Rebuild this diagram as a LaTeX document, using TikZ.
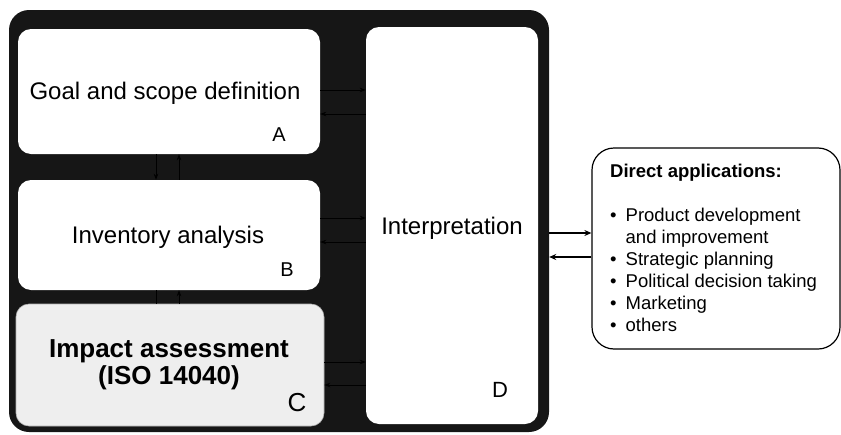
\documentclass[tikz,border=0pt]{standalone}
\usepackage{fontspec}
\setmainfont{Liberation Sans}
\usetikzlibrary{arrows.meta}
\definecolor{framefill}{HTML}{161616}
\definecolor{pale}{HTML}{EEEEEE}
\tikzset{
  stage/.style={rounded corners=13pt, inner sep=0pt, fill=white},
  link/.style={draw=black, line width=0.8pt, -{Stealth[length=6pt,width=4.5pt]}},
  plainlink/.style={draw=black, line width=0.8pt},
  outlink/.style={draw=black, line width=1.8pt, -{Stealth[length=7pt,width=6pt]}},
  title/.style={inner sep=0pt, font=\fontsize{24}{28}\selectfont},
  tag/.style={inner sep=0pt}
}
\begin{document}
\begin{tikzpicture}[x=1pt,y=-1pt]
\useasboundingbox (0,0) rectangle (841,434);

% dark frame holding the four phases
\node[fill=framefill, rounded corners=20pt, inner sep=0pt,
      minimum width=540pt, minimum height=422pt] (F) at (279,221) {};

% phase boxes
\node[stage, minimum width=302pt, minimum height=125pt] (A) at (169,91.5) {};
\node[stage, minimum width=302pt, minimum height=110pt] (B) at (169,235) {};
\node[stage, fill=pale, draw=gray!60, line width=0.6pt,
      minimum width=308pt, minimum height=122pt] (C) at (170,365) {};
\node[stage, minimum width=172pt, minimum height=397pt] (D) at (452,225.5) {};

% applications box
\node[draw=black, line width=1.2pt, rounded corners=22pt, fill=white, inner sep=0pt,
      minimum width=248pt, minimum height=201pt] (R) at (716,248.5) {};

% texts
\node[title] (tA) at (165,93) {Goal and scope definition};
\node[title] (tB) at (168,237) {Inventory analysis};
\node[inner sep=0pt, align=center, font=\fontsize{26}{27}\selectfont\bfseries] (tC) at (169,364.5) {Impact assessment\\(ISO 14040)};
\node[title] (tD) at (452,228) {Interpretation};

\node[tag, font=\fontsize{20}{22}\selectfont] (lA) at (279,135) {A};
\node[tag, font=\fontsize{20}{22}\selectfont] (lB) at (287,270) {B};
\node[tag, font=\fontsize{26}{28}\selectfont] (lC) at (297,403) {C};
\node[tag, font=\fontsize{22}{24}\selectfont] (lD) at (500,390) {D};

\node[anchor=north west, inner sep=0pt, font=\fontsize{18.5}{22}\selectfont] (list) at (610,162)
{\begin{tabular}{@{}l@{\hspace{9pt}}l@{}}
\multicolumn{2}{@{}l}{\textbf{Direct applications:}}\\
 & \\
\textbullet & Product development\\
 & and improvement\\
\textbullet & Strategic planning\\
\textbullet & Political decision taking\\
\textbullet & Marketing\\
\textbullet & others
\end{tabular}};

% links between A, B, C
\coordinate (ab1) at ([xshift=-13pt]A.south);
\coordinate (ab2) at ([xshift=10pt]B.north);
\draw[link] (ab1) -- (ab1 |- B.north);
\draw[link] (ab2) -- (ab2 |- A.south);
\coordinate (bc1) at ([xshift=-13pt]B.south);
\coordinate (bc2) at ([xshift=9pt]C.north);
\draw[plainlink] (bc1) -- (bc1 |- C.north);
\draw[link] (bc2) -- (bc2 |- B.south);

% links to interpretation
\coordinate (ad1) at ([yshift=1.5pt]A.east);
\coordinate (ad2) at ([yshift=-22.5pt]A.east);
\draw[link] (ad1) -- (ad1 -| D.west);
\draw[link] (ad2 -| D.west) -- (ad2);
\coordinate (bd1) at ([yshift=17pt]B.east);
\coordinate (bd2) at ([yshift=-7pt]B.east);
\draw[link] (bd1) -- (bd1 -| D.west);
\draw[link] (bd2 -| D.west) -- (bd2);
\coordinate (cd1) at ([yshift=3pt]C.east);
\coordinate (cd2) at ([yshift=-20pt]C.east);
\draw[link] (cd1) -- (cd1 -| D.west);
\draw[link] (cd2 -| D.west) -- (cd2);

% links to direct applications
\coordinate (fr1) at ([yshift=-12pt]F.east);
\coordinate (fr2) at ([yshift=-36pt]F.east);
\draw[outlink] (fr1) -- (fr1 -| R.west);
\draw[outlink] (fr2 -| R.west) -- (fr2);
\end{tikzpicture}
\end{document}
